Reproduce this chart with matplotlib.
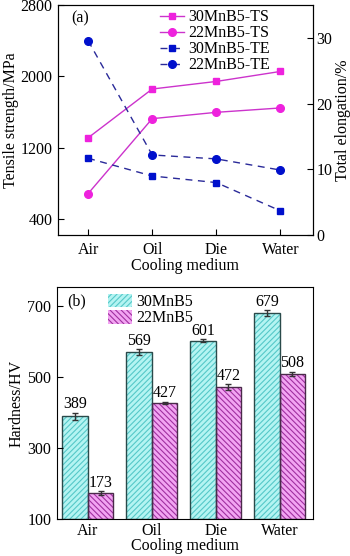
import numpy as np
import matplotlib.pyplot as plt

plt.rcParams['font.family'] = ['Liberation Serif', 'DejaVu Serif']
plt.rcParams['font.size'] = 11.5
plt.rcParams['hatch.linewidth'] = 0.8

# data
media = ['Air', 'Oil', 'Die', 'Water']
ts_30 = [1312, 1859, 1944, 2056]
ts_22 = [687, 1527, 1598, 1647]
te_30 = [11.7, 9.0, 8.0, 3.7]
te_22 = [29.6, 12.2, 11.6, 9.9]

hv_30 = [389, 569, 601, 679]
hv_22 = [173, 427, 472, 508]
hv_30_err = [10, 8, 4, 8]
hv_22_err = [5, 3, 8, 6]

x = np.arange(len(media))
fig = plt.figure(figsize=(3.5, 5.56), dpi=100)

# (a) tensile strength / elongation
ax1 = fig.add_axes([0.166, 0.577, 0.727, 0.414])
ax2 = ax1.twinx()
l1, = ax1.plot(x, ts_30, '-s', color='#cc33cc', mfc='#ee22dd', mec='#ee22dd', ms=5, lw=1)
l2, = ax1.plot(x, ts_22, '-o', color='#cc33cc', mfc='#ee22dd', mec='#ee22dd', ms=5.5, lw=1)
l3, = ax2.plot(x, te_30, '--s', color='#2a2a99', mfc='#0010cc', mec='#0010cc', ms=5, lw=1, dashes=(5, 4))
l4, = ax2.plot(x, te_22, '--o', color='#2a2a99', mfc='#0010cc', mec='#0010cc', ms=5.5, lw=1, dashes=(5, 4))
ax1.set_xlim(-0.467, 3.5)
ax1.set_ylim(222, 2800)
ax1.set_yticks([400, 1200, 2000, 2800])
ax2.set_ylim(0, 35)
ax2.set_yticks([0, 10, 20, 30])
ax1.set_xticks(x)
ax1.set_xticklabels(media)
ax1.set_xlabel('Cooling medium', labelpad=0)
ax1.set_ylabel('Tensile strength/MPa', labelpad=1)
ax2.set_ylabel('Total elongation/%', labelpad=2)
ax1.tick_params(direction='in', length=4, pad=4)
ax1.tick_params(axis='x', pad=5)
ax2.tick_params(direction='in', length=4, pad=3)
ax1.text(0.05, 0.975, '(a)', transform=ax1.transAxes, va='top', ha='left')
ax1.legend([l1, l2, l3, l4], ['30MnB5-TS', '22MnB5-TS', '30MnB5-TE', '22MnB5-TE'],
           loc='upper left', bbox_to_anchor=(0.355, 1.03), frameon=False,
           handlelength=1.5, handletextpad=0.3, labelspacing=0.0, borderpad=0.2)

# (b) hardness
ax3 = fig.add_axes([0.163, 0.0665, 0.731, 0.417])
w = 0.4
b1 = ax3.bar(x - w / 2, np.array(hv_30) - 100, w, bottom=100, color='#b4f4f2', edgecolor='#55c8c8',
             hatch='//////', lw=0, yerr=hv_30_err, ecolor='#333333', capsize=2, error_kw={'elinewidth': 1})
b2 = ax3.bar(x + w / 2, np.array(hv_22) - 100, w, bottom=100, color='#f2a4f2', edgecolor='#a030a0',
             hatch='\\\\\\\\\\\\', lw=0, yerr=hv_22_err, ecolor='#333333', capsize=2, error_kw={'elinewidth': 1})
# bar outlines
ax3.bar(x - w / 2, np.array(hv_30) - 100, w, bottom=100, fill=False, edgecolor='#2a4a4a', lw=1)
ax3.bar(x + w / 2, np.array(hv_22) - 100, w, bottom=100, fill=False, edgecolor='#4a2a4a', lw=1)
for i in range(len(media)):
    ax3.text(x[i] - w / 2, hv_30[i] + hv_30_err[i] + 1, str(hv_30[i]), ha='center', va='bottom')
    ax3.text(x[i] + w / 2, hv_22[i] + hv_22_err[i] + 1, str(hv_22[i]), ha='center', va='bottom')
ax3.set_xlim(-0.48, 3.52)
ax3.set_ylim(100, 752)
ax3.set_yticks([100, 300, 500, 700])
ax3.set_xticks(x)
ax3.set_xticklabels(media)
ax3.set_xlabel('Cooling medium', labelpad=-1)
ax3.set_ylabel('Hardness/HV', labelpad=2)
ax3.tick_params(direction='in', length=4, pad=4)
ax3.tick_params(axis='x', length=0, pad=3)
ax3.text(0.04, 0.975, '(b)', transform=ax3.transAxes, va='top', ha='left')
ax3.legend([b1, b2], ['30MnB5', '22MnB5'], loc='upper left', bbox_to_anchor=(0.15, 1.025),
           frameon=False, handlelength=1.5, handleheight=0.9, handletextpad=0.25,
           labelspacing=0.0, borderpad=0.3)

fig.savefig('out.png', dpi=100)
